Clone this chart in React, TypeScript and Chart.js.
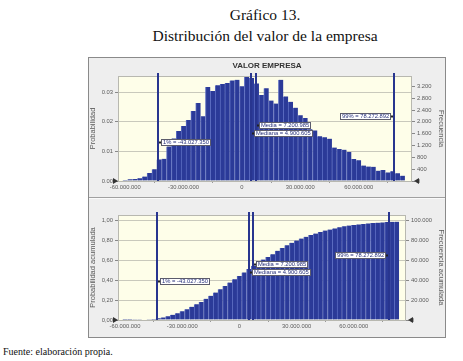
import React, { useEffect, useRef } from 'react';
import { Chart, registerables } from 'chart.js';

Chart.register(...registerables);

// ---------------- data ----------------
const binCenterStart = -60000000;
const binWidth = 2500000;
const probabilities = [
  0.0003, 0.0006, 0.0007, 0.0009, 0.0015, 0.0027, 0.004,
  0.0073, 0.0075, 0.0117, 0.0144, 0.0169, 0.0186, 0.0206, 0.0237, 0.0264, 0.0219,
  0.0318, 0.0304, 0.0324, 0.0328, 0.0331, 0.034, 0.0342, 0.032, 0.0352, 0.0348,
  0.033, 0.0291, 0.0314, 0.0272, 0.0262, 0.0342, 0.0286, 0.0268, 0.0248, 0.0222,
  0.0213, 0.0175, 0.0171, 0.0151, 0.0148, 0.0143, 0.0113, 0.0108, 0.0106, 0.0098,
  0.0074, 0.007, 0.0052, 0.0049, 0.0048, 0.0035, 0.0037, 0.0029, 0.0033, 0.0026, 0.0018,
];
const trials = 100000;
const xMin = -63700000;
const xMax = 87400000;
const xTicks = [-60000000, -30000000, 0, 30000000, 60000000];
const probTicks = [0, 0.01, 0.02, 0.03];
const freqTicks = [0, 400, 800, 1200, 1600, 2000, 2400, 2800, 3200];
const cumProbTicks = [0, 0.2, 0.4, 0.6, 0.8, 1.0];
const cumFreqTicks = [0, 20000, 40000, 60000, 80000, 100000];
const probMax = 0.0355;
const cumMax = 1.05;
const markerNames = ['1%', 'Media', 'Mediana', '99%'];
const markerValues = [-43027350, 7200985, 4900605, 78272892];

// derived: cumulative probability of the same histogram
const cumulativeProbabilities: number[] = [];
probabilities.forEach((p, i) => {
  cumulativeProbabilities.push((i ? cumulativeProbabilities[i - 1] : 0) + p);
});

// ---------------- styles ----------------
const FONT = "'Liberation Sans', Arial, sans-serif";
const BAR = '#2b3a98';
const BAR_EDGE = '#5a6bc0';
const LINE = '#28358f';
const GRID = '#c9c9bc';
const TICK_COLOR = '#5a5a5a';
const PLOT_BG = '#fefee9';
const labelSide = ['right', 'right', 'right', 'left'];
const labelY = [0.63, 0.47, 0.545, 0.385];

const fmtThousands = (v: number) => {
  const s = Math.round(Math.abs(v)).toString().replace(/\B(?=(\d{3})+(?!\d))/g, '.');
  return (v < 0 ? '-' : '') + s;
};

const plotBgPlugin = {
  id: 'plotBg',
  beforeDatasetsDraw(chart: any) {
    const { ctx, chartArea: a } = chart;
    ctx.save();
    ctx.strokeStyle = '#b8b8b0';
    ctx.lineWidth = 1;
    ctx.strokeRect(a.left + 0.5, a.top + 0.5, a.right - a.left - 1, a.bottom - a.top);
    ctx.restore();
  },
  beforeDraw(chart: any) {
    const { ctx, chartArea: a } = chart;
    ctx.save();
    ctx.fillStyle = PLOT_BG;
    ctx.fillRect(a.left, a.top, a.right - a.left, a.bottom - a.top);
    ctx.restore();
  },
};

const markerPlugin = {
  id: 'markers',
  afterDatasetsDraw(chart: any) {
    const { ctx, chartArea: a, scales } = chart;
    const xs = scales.x;
    ctx.save();
    ctx.fillStyle = LINE;
    const px = markerValues.map((v) => Math.round(xs.getPixelForValue(v)));
    px.forEach((x) => ctx.fillRect(x - 1, a.top - 3, 2, a.bottom - a.top + 3));
    ctx.font = `5.8px ${FONT}`;
    ctx.textBaseline = 'middle';
    markerNames.forEach((name, i) => {
      const text = `${name} = ${fmtThousands(markerValues[i])}`;
      const w = Math.round(ctx.measureText(text).width + 4);
      const h = 7;
      const cy = Math.round(a.top + labelY[i] * (a.bottom - a.top));
      const bx = labelSide[i] === 'right' ? px[i] + 3 : px[i] - 3 - w;
      ctx.fillStyle = '#ffffff';
      ctx.fillRect(bx, cy - 3, w, h);
      ctx.strokeStyle = '#5c5c6c';
      ctx.lineWidth = 1;
      ctx.strokeRect(bx + 0.5, cy - 2.5, w - 1, h - 1);
      ctx.fillStyle = '#26307a';
      ctx.fillText(text, bx + 2, cy + 0.8);
      ctx.fillStyle = '#222';
      ctx.fillRect(labelSide[i] === 'right' ? px[i] + 1 : px[i] - 3, cy - 0.5, 2, 2);
    });
    ctx.fillStyle = '#333';
    ctx.beginPath();
    ctx.moveTo(a.left, a.bottom);
    ctx.lineTo(a.left - 5, a.bottom - 3);
    ctx.lineTo(a.left - 5, a.bottom + 3);
    ctx.closePath();
    ctx.fill();
    ctx.beginPath();
    ctx.moveTo(a.right + 2, a.bottom);
    ctx.lineTo(a.right + 7, a.bottom - 3);
    ctx.lineTo(a.right + 7, a.bottom + 3);
    ctx.closePath();
    ctx.fill();
    ctx.restore();
  },
};

type Kind = 'hist' | 'cum';

function makeConfig(kind: Kind): any {
  const isHist = kind === 'hist';
  const values = isHist ? probabilities : cumulativeProbabilities;
  const yMax = isHist ? probMax : cumMax;
  const leftTicks = isHist ? probTicks : cumProbTicks;
  const rightTicks = isHist ? freqTicks : cumFreqTicks;
  const rightW = isHist ? 33 : 39;
  const xH = isHist ? 16 : 17;
  const tickFont = { family: FONT, size: 5.8 };
  const titleFont = { family: FONT, size: 7.5, lineHeight: 1 };
  return {
    type: 'bar',
    data: {
      datasets: [
        {
          data: values.map((y, i) => ({ x: binCenterStart + i * binWidth, y })),
          backgroundColor: BAR,
          borderColor: BAR_EDGE,
          borderWidth: { left: 1, right: 0, top: 0, bottom: 0 },
          borderSkipped: false,
          barPercentage: 1,
          categoryPercentage: 1,
          xAxisID: 'x',
          yAxisID: 'y',
        },
      ],
    },
    options: {
      animation: false,
      responsive: false,
      maintainAspectRatio: false,
      events: [],
      layout: { padding: { top: isHist ? 0 : 16, left: 0, right: 0, bottom: 0 } },
      plugins: {
        legend: { display: false },
        tooltip: { enabled: false },
        title: {
          display: isHist,
          text: 'VALOR EMPRESA',
          color: '#333',
          font: { family: FONT, size: 8, weight: 'bold', lineHeight: 1.2 },
          padding: { top: 3, bottom: 5.4 },
        },
      },
      scales: {
        x: {
          type: 'linear',
          min: xMin,
          max: xMax,
          offset: false,
          afterBuildTicks: (s: any) => {
            s.ticks = xTicks.map((value) => ({ value }));
          },
          afterFit: (s: any) => {
            s.height = xH;
          },
          ticks: {
            callback: (v: number) => fmtThousands(v),
            font: tickFont,
            color: TICK_COLOR,
            maxRotation: 0,
            autoSkip: false,
            padding: 1,
          },
          grid: { drawOnChartArea: false, drawTicks: true, tickLength: 2, color: '#999' },
          border: { display: false },
        },
        y: {
          position: 'left',
          min: 0,
          max: yMax,
          afterBuildTicks: (s: any) => {
            s.ticks = leftTicks.map((value) => ({ value }));
          },
          afterFit: (s: any) => {
            s.width = 29;
          },
          ticks: {
            callback: (v: number) => (isHist ? v.toFixed(2) : v.toFixed(2).replace('.', ',')),
            font: tickFont,
            color: TICK_COLOR,
            padding: 2,
          },
          grid: { color: GRID, tickLength: 3, tickColor: '#888' },
          border: { display: false },
          title: {
            display: true,
            text: isHist ? 'Probabilidad' : 'Probabilidad acumulada',
            font: titleFont,
            color: TICK_COLOR,
            padding: { top: 0, bottom: 0 },
          },
        },
        y2: {
          position: 'right',
          min: 0,
          max: yMax * trials,
          afterBuildTicks: (s: any) => {
            s.ticks = rightTicks.map((value) => ({ value }));
          },
          afterFit: (s: any) => {
            s.width = rightW;
          },
          ticks: {
            callback: (v: number) => fmtThousands(v),
            font: tickFont,
            color: TICK_COLOR,
            padding: 2,
          },
          grid: { drawOnChartArea: false, tickLength: 3, tickColor: '#888' },
          border: { display: false },
          title: {
            display: true,
            text: isHist ? 'Frecuencia' : 'Frecuencia acumulada',
            font: titleFont,
            color: TICK_COLOR,
            padding: { top: 0, bottom: 0 },
          },
        },
      },
    },
    plugins: [plotBgPlugin, markerPlugin],
  };
}

function ChartCanvas({ kind, width, height }: { kind: Kind; width: number; height: number }) {
  const ref = useRef<HTMLCanvasElement | null>(null);
  useEffect(() => {
    if (!ref.current) return;
    const chart = new Chart(ref.current, makeConfig(kind));
    return () => chart.destroy();
  }, [kind]);
  return <canvas ref={ref} width={width} height={height} style={{ display: 'block', width, height }} />;
}

export default function App() {
  const serif = "'Liberation Serif', 'Times New Roman', serif";
  return (
    <div style={{ position: 'absolute', left: 0, top: 0, width: 463, height: 361, background: '#fff', overflow: 'hidden' }}>
      <div style={{ position: 'absolute', left: 0, width: 530, top: 4, textAlign: 'center', fontFamily: serif, fontSize: 15.5, lineHeight: '21px', color: '#111' }}>
        Gráfico 13.
        <br />
        Distribución del valor de la empresa
      </div>
      <div
        style={{
          position: 'absolute',
          left: 88,
          top: 57,
          width: 358,
          height: 281,
          boxSizing: 'border-box',
          border: '1px solid #8a8a8a',
          background: '#eeeeee',
        }}
      >
        <ChartCanvas kind="hist" width={356} height={139} />
        <div style={{ height: 1, background: '#a0a0a0' }} />
        <div style={{ height: 1, background: '#fafafa' }} />
        <ChartCanvas kind="cum" width={356} height={138} />
      </div>
      <div style={{ position: 'absolute', left: 3, top: 345, fontFamily: serif, fontSize: 10, lineHeight: '14px', color: '#111' }}>
        Fuente: elaboración propia.
      </div>
    </div>
  );
}
